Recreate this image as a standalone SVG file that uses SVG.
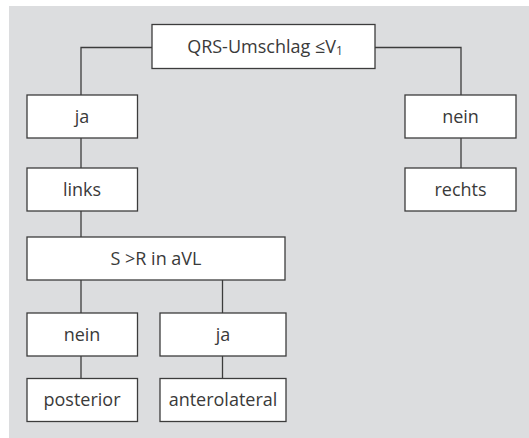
<svg xmlns="http://www.w3.org/2000/svg" width="529" height="438" viewBox="0 0 529 438">
<style>
.bg{fill:#dcdddf}
.box{fill:#fff;stroke:#3c3c3c;stroke-width:1.3}
.t{font-family:"Open Sans","Noto Sans",sans-serif;font-size:18px;fill:#3a3a3a;text-anchor:middle}
.c{fill:none;stroke:#3c3c3c;stroke-width:1.3}
</style>
<rect class="bg" x="9" y="6" width="520" height="432"/>
<g id="connectors">
<path class="c" d="M152,47.5 H81 V95"/>
<path class="c" d="M375,47.5 H461 V95"/>
<path class="c" d="M81,138 V168"/>
<path class="c" d="M461,138 V168"/>
<path class="c" d="M81,211 V237"/>
<path class="c" d="M81,280 V313"/>
<path class="c" d="M222.5,280 V313"/>
<path class="c" d="M81,356 V378"/>
<path class="c" d="M222.5,356 V378"/>
</g>
<g id="n-qrs"><rect class="box" x="152" y="24.5" width="223" height="44"/><text class="t" x="265" y="52.5">QRS-Umschlag ≤V<tspan font-size="12" dy="2">1</tspan></text></g>
<g id="n-ja1"><rect class="box" x="27" y="95" width="110.5" height="43"/><text class="t" x="82" y="122.5">ja</text></g>
<g id="n-nein1"><rect class="box" x="405" y="95" width="111" height="43"/><text class="t" x="460.5" y="122.5">nein</text></g>
<g id="n-links"><rect class="box" x="27" y="168" width="110.5" height="43"/><text class="t" x="82" y="195.5">links</text></g>
<g id="n-rechts"><rect class="box" x="405" y="168" width="111" height="43"/><text class="t" x="460.5" y="195.5">rechts</text></g>
<g id="n-sr"><rect class="box" x="27" y="237" width="258" height="43"/><text class="t" x="156" y="264.5">S &gt;R in aVL</text></g>
<g id="n-nein2"><rect class="box" x="27" y="313" width="110.5" height="43"/><text class="t" x="82" y="340.5">nein</text></g>
<g id="n-ja2"><rect class="box" x="160" y="313" width="126" height="43"/><text class="t" x="223" y="340.5">ja</text></g>
<g id="n-posterior"><rect class="box" x="27" y="378.5" width="110.5" height="43"/><text class="t" x="82" y="406">posterior</text></g>
<g id="n-antero"><rect class="box" x="160" y="378.5" width="126" height="43"/><text class="t" x="223" y="406">anterolateral</text></g>
</svg>
